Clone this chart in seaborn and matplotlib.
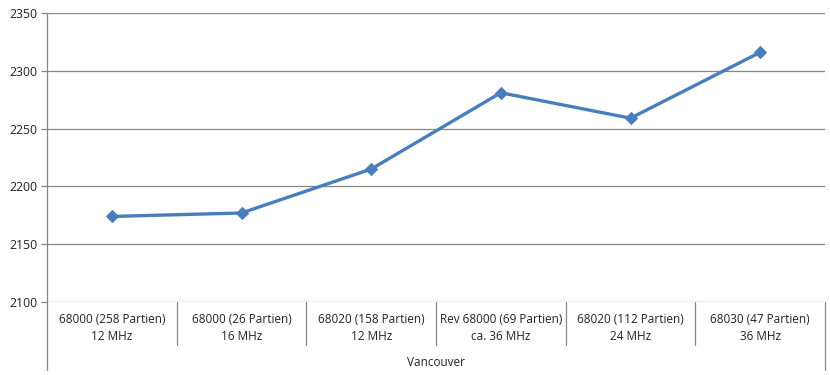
#!/usr/bin/env python3
"""Excel-style line chart: Vancouver ratings by CPU configuration."""

import matplotlib
matplotlib.use("Agg")
import matplotlib.pyplot as plt
import matplotlib.transforms as mtransforms
import pandas as pd
import seaborn as sns

CATEGORIES = [
    "68000 (258 Partien)\n12 MHz",
    "68000 (26 Partien)\n16 MHz",
    "68020 (158 Partien)\n12 MHz",
    "Rev 68000 (69 Partien)\nca. 36 MHz",
    "68020 (112 Partien)\n24 MHz",
    "68030 (47 Partien)\n36 MHz",
]
VALUES = [2174, 2177, 2215, 2281, 2259, 2316]
GROUP = "Vancouver"
Y_TICKS = [2100, 2150, 2200, 2250, 2300, 2350]

W, H = 830, 375
LINE = "#4A7EBB"
GRID = "#868686"


def main() -> None:
    sns.set_theme(style="white")
    plt.rcParams["font.family"] = ["Open Sans", "DejaVu Sans"]

    frame = pd.DataFrame({"pos": range(len(CATEGORIES)), "value": VALUES})

    fig = plt.figure(figsize=(W / 100, H / 100), dpi=100, facecolor="white")
    left, right, top, bottom = 47, 825, 13, 302
    ax = fig.add_axes([left / W, 1 - bottom / H, (right - left) / W, (bottom - top) / H])

    sns.lineplot(data=frame, x="pos", y="value", color=LINE, linewidth=2.4,
                 marker="D", markersize=6.5, markeredgecolor=LINE, ax=ax)

    ax.set_xlim(-0.5, len(CATEGORIES) - 0.5)
    ax.set_ylim(Y_TICKS[0], Y_TICKS[-1])
    ax.set_yticks(Y_TICKS)
    ax.set_yticklabels([str(t) for t in Y_TICKS], fontsize=8.8, color="#222222")
    ax.set_xticks([])
    ax.set_xlabel("")
    ax.set_ylabel("")
    for y in Y_TICKS:
        ax.axhline(y, color=GRID, linewidth=0.9, zorder=0)
    for side in ("top", "right", "bottom"):
        ax.spines[side].set_visible(False)
    ax.spines["left"].set_color(GRID)
    ax.spines["left"].set_linewidth(0.9)
    ax.tick_params(axis="y", length=4, width=0.9, color=GRID, pad=3, left=True)

    # category axis drawn below the plot area
    trans = mtransforms.blended_transform_factory(ax.transData, fig.transFigure)
    sep_bottom = 1 - 345 / H
    frame_bottom = 1 - 370 / H
    n = len(CATEGORIES)
    for i in range(n + 1):
        x = i - 0.5
        y_end = frame_bottom if i in (0, n) else sep_bottom
        ax.plot([x, x], [1 - bottom / H, y_end], color=GRID, linewidth=0.9,
                transform=trans, clip_on=False)
    for i, label in enumerate(CATEGORIES):
        ax.text(i, 1 - 328 / H, label, transform=trans, ha="center", va="center",
                fontsize=8.5, color="#222222", linespacing=1.45)
    ax.text((n - 1) / 2, 1 - 362 / H, GROUP, transform=trans, ha="center",
            va="center", fontsize=8.5, color="#222222")

    fig.savefig("out.png", dpi=100, facecolor="white")


if __name__ == "__main__":
    main()
